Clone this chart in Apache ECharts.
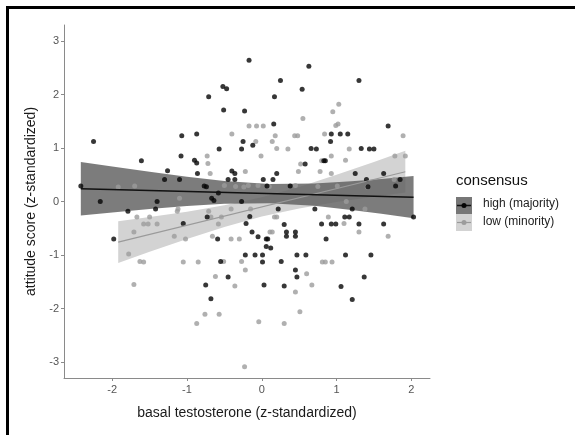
<!DOCTYPE html>
<html>
<head>
<meta charset="utf-8">
<script src="https://cdn.jsdelivr.net/npm/echarts@6/dist/echarts.min.js"></script>
<style>
  html, body { margin: 0; padding: 0; background: #fff; }
  #chart { width: 575px; height: 435px; }
</style>
</head>
<body>
<div id="chart"></div>
<script>
// scatter points [basal testosterone, attitude score]
const highPoints = [
  [-2.25,1.12],[-2.42,0.29],[-2.16,0.0],[-1.98,-0.70],[-1.79,-0.18],[-1.61,0.76],[-1.40,0.0],[-1.42,-0.14],
  [-1.30,0.41],[-1.26,0.575],[-1.10,0.41],[-1.07,1.23],[-1.08,0.85],[-1.05,-0.41],[-0.87,1.26],[-0.90,0.77],
  [-0.87,0.72],[-0.86,0.525],[-0.77,0.29],[-0.74,0.275],[-0.75,-1.56],[-0.71,1.96],[-0.73,-0.29],[-0.68,-1.82],
  [-0.67,0.06],[-0.64,0.02],[-0.59,-0.70],[-0.58,0.16],[-0.57,0.98],[-0.55,-1.12],[-0.52,2.15],[-0.51,1.71],
  [-0.47,2.11],[-0.45,-1.41],[-0.45,0.41],[-0.40,0.57],[-0.36,0.525],[-0.36,0.41],[-0.27,0.98],[-0.25,1.12],
  [-0.23,1.69],[-0.22,-1.0],[-0.21,-0.41],[-0.27,0.0],[-0.17,2.64],[-0.16,-0.28],[-0.12,1.05],[-0.13,-0.57],
  [-0.09,-1.0],[-0.05,-0.66],[0.02,0.41],[0.01,-1.0],[0.01,-1.13],[0.03,-1.56],[0.07,0.29],[0.06,-0.70],
  [0.08,-0.70],[0.06,-0.84],[0.12,-0.87],[0.15,0.41],[0.16,1.45],[0.17,1.96],[0.20,0.525],[0.22,-0.14],
  [0.25,2.26],[0.26,-1.12],[0.30,-0.43],[0.30,-1.58],[0.33,-0.57],[0.33,-0.65],[0.38,0.29],[0.45,-0.57],
  [0.45,-0.65],[0.45,-1.28],[0.47,-1.41],[0.47,-1.0],[0.54,2.10],[0.58,0.70],[0.59,-1.0],[0.63,2.53],
  [0.66,0.99],[0.73,0.98],[0.71,-0.14],[0.80,-0.42],[0.83,0.76],[0.85,0.76],[0.86,-0.70],[0.92,1.12],
  [0.93,1.26],[0.93,-0.42],[0.99,-0.42],[1.05,1.26],[1.06,-1.59],[1.11,-0.29],[1.12,-1.0],[1.15,1.26],
  [1.17,-0.29],[1.21,-0.14],[1.21,-1.83],[1.25,0.525],[1.30,2.26],[1.30,-0.42],[1.33,0.99],[1.37,-1.41],
  [1.40,0.41],[1.42,0.275],[1.44,0.98],[1.50,0.98],[1.46,-1.0],[1.63,0.525],[1.63,-0.42],[1.69,1.41],
  [1.79,0.29],[1.85,0.41],[2.03,-0.29]
];
const lowPoints = [
  [-1.92,0.27],[-1.70,0.29],[-1.78,-0.98],[-1.71,-0.57],[-1.71,-1.55],[-1.67,-0.29],[-1.63,-1.12],[-1.58,-1.13],
  [-1.58,-0.42],[-1.52,-0.42],[-1.50,-0.29],[-1.40,-0.42],[-1.10,0.06],[-1.12,-0.14],[-1.13,-0.18],[-1.17,-0.65],
  [-1.05,-1.13],[-1.02,-0.70],[-0.85,-1.13],[-0.87,-2.28],[-0.76,-2.11],[-0.73,0.85],[-0.72,0.71],[-0.69,0.525],
  [-0.71,-0.18],[-0.68,-0.29],[-0.66,-0.65],[-0.62,-1.40],[-0.57,-2.11],[-0.58,-0.42],[-0.54,-0.29],[-0.51,-1.12],
  [-0.41,-0.14],[-0.40,1.26],[-0.41,-0.70],[-0.36,-1.58],[-0.30,-0.70],[-0.27,-1.12],[-0.24,0.27],[-0.22,0.56],
  [-0.22,-1.28],[-0.23,-3.09],[-0.17,1.41],[-0.15,-0.14],[-0.08,1.12],[-0.07,1.41],[-0.01,0.85],[-0.04,-2.25],
  [0.02,1.41],[0.14,1.12],[0.18,1.23],[0.20,0.99],[0.14,-0.57],[0.11,-0.57],[0.17,-0.29],[0.20,-0.29],
  [0.30,-2.28],[0.35,0.98],[0.44,1.23],[0.48,1.23],[0.45,-1.69],[0.51,-2.06],[0.49,0.56],[0.52,0.70],
  [0.55,1.55],[0.60,-1.35],[0.67,-1.56],[0.78,0.56],[0.80,0.76],[0.84,1.26],[0.89,-0.29],[0.81,-1.13],
  [0.85,-1.13],[0.94,-1.13],[0.93,0.85],[0.93,0.525],[0.95,1.68],[0.99,1.42],[1.02,1.45],[1.03,1.82],
  [1.01,0.29],[1.10,-0.41],[1.12,0.77],[1.17,0.98],[1.13,0.0],[1.30,-0.57],[1.38,-0.14],[1.41,0.27],
  [1.69,-0.65],[1.78,0.85],[1.89,1.23],[1.92,0.85],[1.77,0.41],
  [-0.50,0.30],[-0.18,0.30],[-0.05,0.30],[0.45,0.30],[0.75,0.28],[0.10,0.28],[-0.35,0.28]
];

// fitted lines (endpoints) and confidence bands
const highFitX = [-2.42, 2.03];
const highFitY = [0.24, 0.08];
const lowFitX = [-1.92, 1.92];
const lowFitY = [-0.76, 0.556];

const highBandX  = [-2.42, -2.0, -1.5, -1.0, -0.5, 0.1, 0.7, 1.2, 1.6, 2.03];
const highBandLo = [-0.26, -0.204, -0.141, -0.084, -0.042, -0.031, -0.081, -0.158, -0.231, -0.315];
const highBandHi = [0.74, 0.654, 0.555, 0.462, 0.384, 0.329, 0.337, 0.378, 0.423, 0.475];

const lowBandX  = [-1.92, -1.5, -1.0, -0.5, 0.0, 0.5, 1.0, 1.5, 1.92];
const lowBandLo = [-1.15, -0.94, -0.70, -0.475, -0.28, -0.13, -0.01, 0.09, 0.17];
const lowBandHi = [-0.37, -0.29, -0.19, -0.07, 0.08, 0.27, 0.50, 0.74, 0.95];

const xTicks = [-2, -1, 0, 1, 2];
const yTicks = [-3, -2, -1, 0, 1, 2, 3];

const chart = echarts.init(document.getElementById("chart"));

function bandSeries(xs, lo, hi, color, z) {
  return {
    type: "custom",
    z: z,
    silent: true,
    data: [[xs[0], lo[0]]],
    renderItem: function (params, api) {
      const pts = [];
      for (let i = 0; i < xs.length; i++) pts.push(api.coord([xs[i], hi[i]]));
      for (let i = xs.length - 1; i >= 0; i--) pts.push(api.coord([xs[i], lo[i]]));
      return {
        type: "polygon",
        shape: { points: pts },
        style: { fill: color, stroke: null },
      };
    },
  };
}

const axisCommon = {
  type: "value",
  splitLine: { show: false },
  axisLine: { show: true, onZero: false, lineStyle: { color: "#8a8a8a", width: 1 } },
  axisTick: { show: true, length: 3, lineStyle: { color: "#8a8a8a" } },
  axisLabel: { color: "#555", fontSize: 11, fontFamily: "Liberation Sans" },
  nameLocation: "middle",
  nameTextStyle: { color: "#1a1a1a", fontSize: 14, fontFamily: "Liberation Sans" },
};

const option = {
  animation: false,
  grid: { left: 64, right: 145, top: 25, bottom: 57 },
  xAxis: Object.assign({}, axisCommon, {
    min: -2.645,
    max: 2.25,
    name: "basal testosterone (z-standardized)",
    nameGap: 28,
    axisTick: Object.assign({}, axisCommon.axisTick, { customValues: xTicks }),
    axisLabel: Object.assign({}, axisCommon.axisLabel, { customValues: xTicks, margin: 6 }),
  }),
  yAxis: Object.assign({}, axisCommon, {
    min: -3.3,
    max: 3.3,
    name: "attitude score (z-standardized)",
    nameGap: 26,
    axisTick: Object.assign({}, axisCommon.axisTick, { customValues: yTicks }),
    axisLabel: Object.assign({}, axisCommon.axisLabel, { customValues: yTicks, margin: 5 }),
  }),
  series: [
    bandSeries(lowBandX, lowBandLo, lowBandHi, "#d3d3d3", 1),
    bandSeries(highBandX, highBandLo, highBandHi, "rgba(95,95,95,0.82)", 2),
    {
      type: "scatter",
      z: 3,
      symbolSize: 5,
      itemStyle: { color: "#9c9c9c" },
      data: lowPoints,
    },
    {
      type: "scatter",
      z: 4,
      symbolSize: 5,
      itemStyle: { color: "#050505" },
      data: highPoints,
    },
    {
      type: "line",
      z: 5,
      symbol: "none",
      lineStyle: { color: "#9a9a9a", width: 1.2 },
      data: lowFitX.map((x, i) => [x, lowFitY[i]]),
    },
    {
      type: "line",
      z: 6,
      symbol: "none",
      lineStyle: { color: "#111", width: 1.5 },
      data: highFitX.map((x, i) => [x, highFitY[i]]),
    },
  ],
  graphic: [
    // frame on the top and left edge
    { type: "rect", left: 6, top: 6, shape: { width: 569, height: 3 }, style: { fill: "#000" } },
    { type: "rect", left: 6, top: 6, shape: { width: 3, height: 429 }, style: { fill: "#000" } },
    // legend
    { type: "text", left: 456, top: 173, style: { text: "consensus", fill: "#111", font: "15px Liberation Sans" } },
    { type: "rect", left: 456, top: 197, shape: { width: 16, height: 17 }, style: { fill: "#777" } },
    { type: "rect", left: 456, top: 214, shape: { width: 16, height: 17 }, style: { fill: "#d3d3d3" } },
    { type: "line", shape: { x1: 457, y1: 205.5, x2: 471, y2: 205.5 }, style: { stroke: "#111", lineWidth: 1.5 } },
    { type: "circle", shape: { cx: 464, cy: 205.5, r: 2.5 }, style: { fill: "#050505" } },
    { type: "line", shape: { x1: 457, y1: 222.5, x2: 471, y2: 222.5 }, style: { stroke: "#9a9a9a", lineWidth: 1.2 } },
    { type: "circle", shape: { cx: 464, cy: 222.5, r: 2.5 }, style: { fill: "#9c9c9c" } },
    { type: "text", left: 483, top: 198, style: { text: "high (majority)", fill: "#222", font: "12px Liberation Sans" } },
    { type: "text", left: 483, top: 216, style: { text: "low (minority)", fill: "#222", font: "12px Liberation Sans" } },
  ],
};

chart.setOption(option);
</script>
</body>
</html>
